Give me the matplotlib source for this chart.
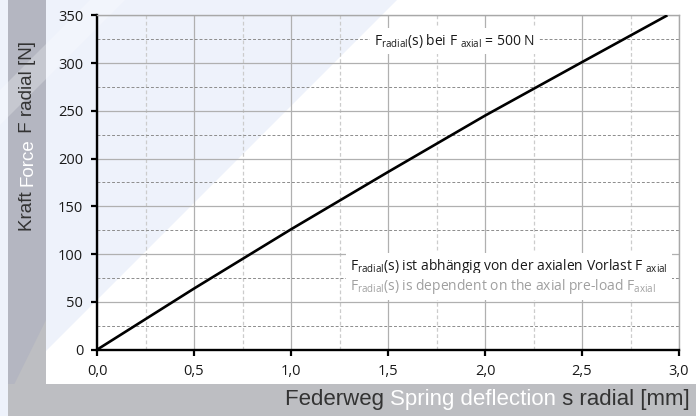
import matplotlib.pyplot as plt
import numpy as np
from matplotlib.patches import Polygon, Rectangle

plt.rcParams['font.family'] = ['Open Sans', 'DejaVu Sans']
plt.rcParams['mathtext.fontset'] = 'custom'
plt.rcParams['mathtext.rm'] = 'Open Sans'

# spring curve
deflection = [0.0, 0.5, 1.0, 1.5, 2.0, 2.5, 2.94]
force = [0, 64, 126, 186, 245, 301, 350]

xticks = [0.0, 0.5, 1.0, 1.5, 2.0, 2.5, 3.0]
xticklabels = ['0,0', '0,5', '1,0', '1,5', '2,0', '2,5', '3,0']
yticks = [0, 50, 100, 150, 200, 250, 300, 350]

fig = plt.figure(figsize=(6.96, 4.16), dpi=100, facecolor='white')

# background decoration (pixel coords of the figure)
bg = fig.add_axes([0, 0, 1, 1], zorder=-5)
bg.set_xlim(0, 696)
bg.set_ylim(416, 0)
bg.axis('off')
bg.add_patch(Polygon([(0, 0), (397, 0), (0, 397)], color='#eef2fb', lw=0))
bg.add_patch(Rectangle((0, 0), 8, 416, color='#eef2fb', lw=0))
bg.add_patch(Rectangle((8, 0), 38, 416, color='#b4b6c1', lw=0))
bg.add_patch(Rectangle((8, 384), 688, 32, color='#bdbec2', lw=0))
bg.add_patch(Polygon([(8, 397), (46, 320), (46, 384)], color='#bdbec2', lw=0))
bg.add_patch(Polygon([(0, 90), (90, 0), (125, 0), (0, 125)], color='white', alpha=0.25, lw=0))

ax = fig.add_axes([0.1394, 0.1594, 0.8362, 0.8038])
ax.set_facecolor('none')
ax.plot(deflection, force, color='black', lw=1.9, solid_capstyle='butt', zorder=3)

ax.set_xlim(0, 3.0)
ax.set_ylim(0, 350)
ax.set_xticks(xticks)
ax.set_xticklabels(xticklabels)
ax.set_yticks(yticks)
ax.set_xticks(np.arange(0.25, 3.0, 0.5), minor=True)
ax.set_yticks(np.arange(25, 350, 50), minor=True)
ax.tick_params(which='major', length=4, width=1.6, color='black', pad=6,
               labelsize=10.5, labelcolor='#1a1a1a')
ax.tick_params(which='minor', length=0)

ax.grid(which='major', color='#b0b0b0', lw=0.9, ls='-')
ax.yaxis.grid(which='minor', color='#8c8c8c', lw=0.7, ls=(0, (3, 2)))
ax.xaxis.grid(which='minor', color='#cccccc', lw=0.9, ls=(0, (3, 2)))
ax.set_axisbelow(True)

for side in ['left', 'bottom']:
    ax.spines[side].set_color('black')
    ax.spines[side].set_linewidth(1.7)
for side in ['top', 'right']:
    ax.spines[side].set_color('#a8a8a8')
    ax.spines[side].set_linewidth(1.0)

box = dict(facecolor='white', edgecolor='none', pad=3)
ax.text(1.843, 323, r'F$_{\mathrm{radial}}$(s) bei F $_{\mathrm{axial}}$ = 500 N',
        ha='center', va='center', fontsize=10, color='#1a1a1a', bbox=box, zorder=4)
ax.text(1.304, 87, r'F$_{\mathrm{radial}}$(s) ist abhängig von der axialen Vorlast F $_{\mathrm{axial}}$',
        ha='left', va='center', fontsize=10, color='#1a1a1a', bbox=box, zorder=4)
ax.text(1.304, 66, r'F$_{\mathrm{radial}}$(s) is dependent on the axial pre-load F$_{\mathrm{axial}}$',
        ha='left', va='center', fontsize=10, color='#a0a0a0', bbox=box, zorder=4)

# axis titles in German / English (English part in white)
dark = '#333333'
lab = dict(fontsize=16, family=['Liberation Sans', 'DejaVu Sans'])
t = fig.text(690 / 696, 1 - 400 / 416, ' s radial [mm]', ha='right', va='center', color=dark, **lab)
t = ax.annotate('Spring deflection', xy=(0, 0.5), xycoords=t, ha='right', va='center', color='white', **lab)
ax.annotate('Federweg ', xy=(0, 0.5), xycoords=t, ha='right', va='center', color=dark, **lab)

lab = dict(fontsize=13.5, family=['Liberation Sans', 'DejaVu Sans'])
t = fig.text(28 / 696, 1 - 231 / 416, 'Kraft ', rotation=90, ha='center', va='bottom', color=dark, **lab)
t = ax.annotate('Force', xy=(0.5, 1), xycoords=t, rotation=90, ha='center', va='bottom', color='white', **lab)
ax.annotate(' F radial [N]', xy=(0.5, 1), xycoords=t, rotation=90, ha='center', va='bottom', color=dark, **lab)

plt.savefig('out.png', dpi=100, facecolor=fig.get_facecolor())
